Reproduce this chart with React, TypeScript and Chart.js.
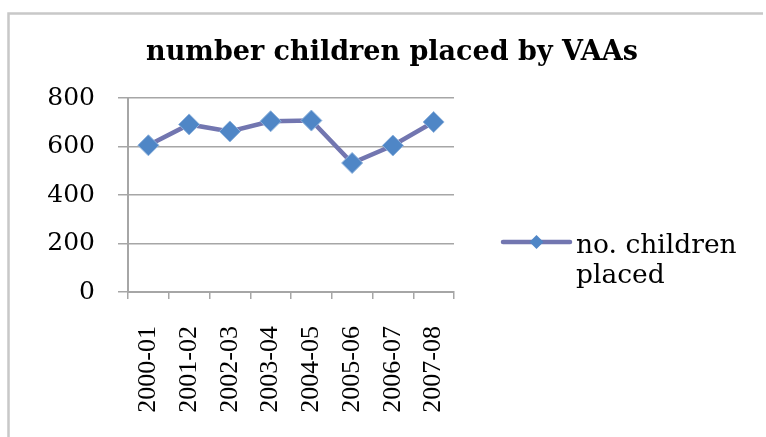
import React, { useEffect, useRef } from "react";
import { Chart, registerables } from "chart.js";

Chart.register(...registerables);

const TITLE = "number children placed by VAAs";
const SERIES_LABEL = "no. children placed";
const CATEGORIES = ["2000-01", "2001-02", "2002-03", "2003-04", "2004-05", "2005-06", "2006-07", "2007-08"];
const CHILDREN_PLACED = [605, 691, 662, 704, 707, 532, 604, 701];
const Y_MIN = 0;
const Y_MAX = 800;
const Y_STEP = 200;

const LINE_COLOR = "#7276b0";
const MARKER_FILL = "#4f86c6";
const MARKER_BORDER = "#8fb3dd";
const GRID = "#a6a6a6";

const framePlugin = {
  id: "frame",
  beforeDraw(chart: any) {
    const { ctx, width, height } = chart;
    ctx.save();
    ctx.fillStyle = "#fff";
    ctx.fillRect(0, 0, width, height);
    ctx.strokeStyle = "#c8c8c8";
    ctx.lineWidth = 2.5;
    ctx.beginPath();
    ctx.moveTo(8.5, height + 5);
    ctx.lineTo(8.5, 13.5);
    ctx.lineTo(width - 3, 13.5);
    ctx.stroke();
    ctx.restore();
  },
};

const titleLegendPlugin = {
  id: "titleLegend",
  afterDraw(chart: any) {
    const { ctx, chartArea } = chart;
    ctx.save();
    ctx.font = "bold 27px 'DejaVu Serif'";
    ctx.fillStyle = "#000";
    ctx.textAlign = "center";
    ctx.textBaseline = "alphabetic";
    ctx.fillText(TITLE, 392, 60);

    const ds = chart.data.datasets[0];
    const ly = chartArea.top + 144;
    const lx0 = chartArea.right + 49;
    const lx1 = lx0 + 67;
    ctx.strokeStyle = ds.borderColor;
    ctx.lineWidth = ds.borderWidth;
    ctx.lineCap = "round";
    ctx.beginPath();
    ctx.moveTo(lx0, ly);
    ctx.lineTo(lx1, ly);
    ctx.stroke();
    const cx = (lx0 + lx1) / 2;
    const r = 7;
    ctx.beginPath();
    ctx.moveTo(cx, ly - r);
    ctx.lineTo(cx + r, ly);
    ctx.lineTo(cx, ly + r);
    ctx.lineTo(cx - r, ly);
    ctx.closePath();
    ctx.fillStyle = ds.pointBackgroundColor;
    ctx.fill();

    ctx.font = "26.5px 'DejaVu Serif'";
    ctx.fillStyle = "#000";
    ctx.textAlign = "left";
    const words = String(ds.label).split(" ");
    const lines: string[] = [];
    let cur = "";
    for (const w of words) {
      const t = cur ? cur + " " + w : w;
      if (ctx.measureText(t).width > 175 && cur) {
        lines.push(cur);
        cur = w;
      } else cur = t;
    }
    if (cur) lines.push(cur);
    lines.forEach((l, i) => ctx.fillText(l, lx1 + 6, ly + 11 + i * 30));
    ctx.restore();
  },
};

export default function App() {
  const ref = useRef<HTMLCanvasElement | null>(null);
  useEffect(() => {
    if (!ref.current) return;
    const chart = new Chart(ref.current, {
      type: "line",
      data: {
        labels: CATEGORIES,
        datasets: [
          {
            label: SERIES_LABEL,
            data: CHILDREN_PLACED,
            borderColor: LINE_COLOR,
            borderWidth: 4.5,
            pointStyle: "rectRot",
            pointRadius: 10.5,
            pointBackgroundColor: MARKER_FILL,
            pointBorderColor: MARKER_BORDER,
            pointBorderWidth: 1,
            tension: 0,
          },
        ],
      },
      options: {
        animation: false,
        responsive: true,
        maintainAspectRatio: false,
        devicePixelRatio: 1,
        layout: { padding: { top: 98, right: 312, bottom: 0, left: 0 } },
        plugins: {
          legend: { display: false },
          title: { display: false },
          tooltip: { enabled: false },
        },
        scales: {
          x: {
            offset: true,
            grid: { offset: true, drawOnChartArea: false, tickLength: 7, color: GRID, lineWidth: 1.5 },
            border: { display: true, color: GRID, width: 2 },
            ticks: {
              minRotation: 90,
              maxRotation: 90,
              padding: 27,
              color: "#000",
              font: { family: "'Liberation Serif'", size: 26 },
            },
            afterFit: (s: any) => {
              s.height = 145;
            },
          },
          y: {
            min: Y_MIN,
            max: Y_MAX,
            grid: { color: GRID, lineWidth: 1.5, tickLength: 10 },
            border: { display: true, color: GRID, width: 2 },
            ticks: {
              stepSize: Y_STEP,
              padding: 23,
              color: "#000",
              font: { family: "'DejaVu Serif'", size: 25 },
            },
            afterFit: (s: any) => {
              s.width = 128;
            },
          },
        },
      },
      plugins: [framePlugin, titleLegendPlugin],
    });
    return () => chart.destroy();
  }, []);
  return (
    <div style={{ position: "fixed", left: 0, top: 0, width: 766, height: 437 }}>
      <canvas ref={ref} />
    </div>
  );
}
